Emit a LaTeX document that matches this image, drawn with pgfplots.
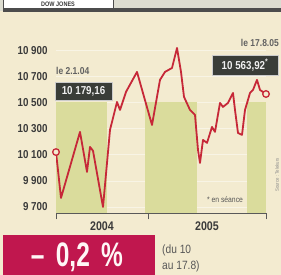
\documentclass[border=0pt]{standalone}
\usepackage{pgfplots}
\pgfplotsset{compat=1.18}
\usepackage{fontspec}
\newfontfamily\cond{Liberation Sans}[FakeStretch=0.85]
\newfontfamily\condx{Liberation Sans}[FakeStretch=0.72]
\definecolor{bg}{HTML}{F3EBD0}
\definecolor{band}{HTML}{DADC9C}
\definecolor{linered}{HTML}{C62838}
\definecolor{boxred}{HTML}{C0174E}
\definecolor{darkbox}{HTML}{3A3D38}
\definecolor{txt}{HTML}{3A3A3A}
\definecolor{topgray}{HTML}{DCDCD0}
\begin{document}
\begin{tikzpicture}[x=1pt,y=1pt]
\useasboundingbox (0,0) rectangle (281,275);
\clip (0,0) rectangle (281,275);
\fill[bg] (0,0) rectangle (281,275);
% top banner
\fill[topgray] (0,264) rectangle (281,275);
\fill[white] (3,267) rectangle (113,277);
\draw[gray!60!black, line width=0.6pt] (3,267) rectangle (113,278);
\node[font=\cond\bfseries\fontsize{6.5}{6.5}\selectfont, text=txt, inner sep=0pt] at (58,271) {DOW JONES};
\fill[black!70] (3,263) rectangle (281,267);
\begin{axis}[
  at={(56pt,61.5pt)}, anchor=south west,
  scale only axis, width=210pt, height=176.5pt,
  xmin=0, xmax=210, ymin=9650, ymax=11000,
  scaled y ticks=false,
  axis x line*=bottom, axis y line*=left,
  y axis line style={draw=none},
  x axis line style={gray!70!black, line width=0.7pt},
  ytick={9700,9900,10100,10300,10500,10700,10900},
  yticklabels={9 700,9 900,10 100,10 300,10 500,10 700,10 900},
  ytick style={draw=none},
  yticklabel style={font=\cond\bfseries\fontsize{11.5}{11.5}\selectfont, text=txt, inner sep=0pt, xshift=-4pt},
  xtick={46,151}, xticklabels={2004,2005},
  major x tick style={draw=none},
  minor xtick={0,92,210},
  minor tick length=6pt,
  tick align=outside,
  minor x tick style={gray!70!black, line width=0.7pt},
  xticklabel style={font=\cond\bfseries\fontsize{12.5}{12.5}\selectfont, text=txt, inner sep=0pt, yshift=-4pt},
  ymajorgrids, grid style={white, opacity=0.45, line width=0.6pt},
  clip marker paths=false,
]
\addplot[draw=none, fill=band] coordinates {(0,9650) (0,10500) (51,10500) (51,9650)} -- cycle;
\addplot[draw=none, fill=band] coordinates {(89,9650) (89,10500) (141,10500) (141,9650)} -- cycle;
\addplot[draw=none, fill=band] coordinates {(191,9650) (191,10500) (210,10500) (210,9650)} -- cycle;
\addplot[linered, line width=1.8pt, line join=round] coordinates {
(0,10120) (5,9769) (24,10274) (31,9968) (34,10159) (37,10130) (47,9700)
(54,10289) (61,10503) (64,10442) (70,10580) (81,10733) (96,10327)
(104,10672) (109,10733) (116,10763) (121,10916) (125,10733) (128,10542)
(134,10442) (139,10404) (142,10136) (144,10037) (147,10213) (151,10190)
(156,10312) (159,10274) (164,10496) (167,10465) (172,10496) (177,10572)
(179,10442) (182,10266) (186,10251) (189,10442) (194,10572) (197,10595)
(201,10672) (204,10595) (210,10564)};
\addplot[only marks, mark=*, mark size=3.3pt, mark options={draw=linered, fill=bg, line width=1.3pt}] coordinates {(0,10120) (210,10564)};
\end{axis}
% annotations
\node[font=\cond\bfseries\fontsize{10}{10}\selectfont, text=txt!80, anchor=west, inner sep=0pt] at (56,204) {le 2.1.04};
\node[fill=darkbox, draw=gray!40, line width=0.5pt, text=white!88!gray, font=\cond\bfseries\fontsize{11.5}{11.5}\selectfont, minimum width=57pt, minimum height=18pt, inner sep=1pt] at (83.5,184) {10 179,16};
\node[font=\cond\bfseries\fontsize{10}{10}\selectfont, text=txt!80, anchor=east, inner sep=0pt] at (279,232) {le 17.8.05};
\node[fill=darkbox, draw=gray!40, line width=0.5pt, text=white!88!gray, font=\cond\bfseries\fontsize{11.5}{11.5}\selectfont, minimum width=66pt, minimum height=20pt, inner sep=1pt] at (245,210) {10 563,92\textsuperscript{*}};
\node[font=\cond\fontsize{8}{8}\selectfont, text=txt!85, inner sep=0pt] at (225,75) {* en séance};
\node[font=\cond\fontsize{5}{5}\selectfont, text=txt!60, rotate=90, inner sep=0pt] at (277,100) {Source : Telekurs};
\fill[boxred] (3,0) rectangle (155,40);
\node[font=\condx\bfseries\fontsize{34}{34}\selectfont, text=white!85!pink, inner sep=0pt] at (77,18) {–\,\,0,2\,\,\%};
\node[font=\cond\fontsize{12}{12}\selectfont, text=txt!85, anchor=west, inner sep=0pt] at (162,25) {(du 10};
\node[font=\cond\fontsize{12}{12}\selectfont, text=txt!85, anchor=west, inner sep=0pt] at (162,9) {au 17.8)};
\end{tikzpicture}
\end{document}
